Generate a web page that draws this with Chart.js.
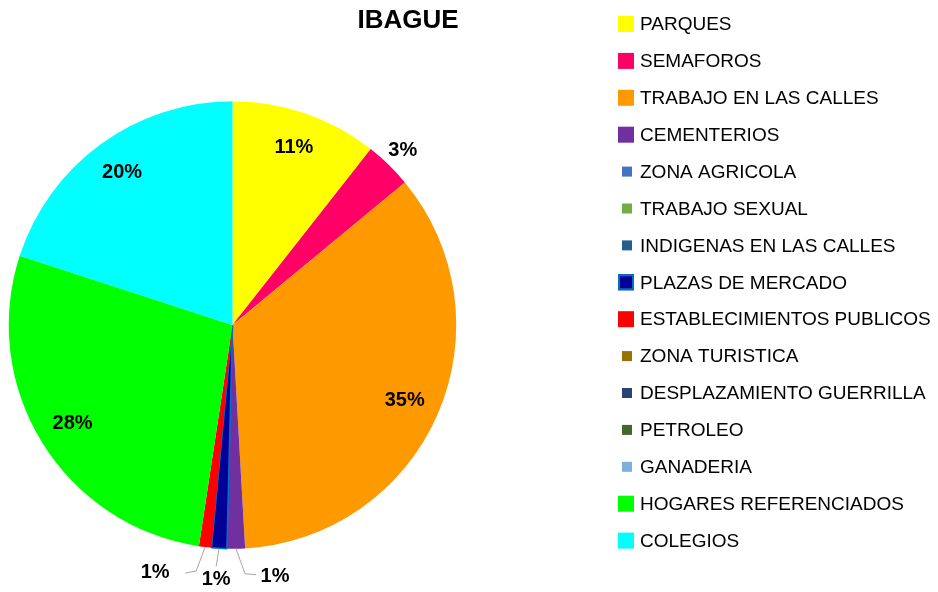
<!DOCTYPE html>
<html>
<head>
<meta charset="utf-8">
<script src="https://cdn.jsdelivr.net/npm/chart.js@4/dist/chart.umd.min.js"></script>
<style>
  html, body { margin: 0; padding: 0; background: #fff; }
  canvas { display: block; }
</style>
</head>
<body>
<canvas id="pie" width="938" height="592"></canvas>
<script>
const chartTitle = 'IBAGUE';

const categories = [
  'PARQUES', 'SEMAFOROS', 'TRABAJO EN LAS CALLES', 'CEMENTERIOS', 'ZONA AGRICOLA',
  'TRABAJO SEXUAL', 'INDIGENAS EN LAS CALLES', 'PLAZAS DE MERCADO', 'ESTABLECIMIENTOS PUBLICOS',
  'ZONA TURISTICA', 'DESPLAZAMIENTO GUERRILLA', 'PETROLEO', 'GANADERIA',
  'HOGARES REFERENCIADOS', 'COLEGIOS'
];

// porcentajes
const values = [10.6, 3.4, 35.1, 1.3, 0, 0, 0, 1.1, 0.9, 0, 0, 0, 0, 27.6, 20.0];

const colors = [
  '#FFFF00', '#FF0066', '#FF9900', '#7030A0', '#4472C4',
  '#70AD47', '#255E91', '#000099', '#FF0000', '#997300',
  '#264478', '#43682B', '#7CAFDD', '#00FF00', '#00FFFF'
];

// etiquetas con linea guia (elbow, fin de linea, texto) relativas al borde del sector
const callouts = {
  'CEMENTERIOS': { elbow: [9, 25], end: [20, 26], text: [39, 28] },
  'PLAZAS DE MERCADO': { elbow: [-3, 18], end: [-3, 18], text: [-3, 31] },
  'ESTABLECIMIENTOS PUBLICOS': { elbow: [-9, 24], end: [-20, 26], text: [-50, 25] }
};

const total = values.reduce((a, b) => a + b, 0);

const decorPlugin = {
  id: 'decor',
  afterDraw(chart) {
    const ctx = chart.ctx;
    ctx.save();

    // titulo
    ctx.fillStyle = '#000';
    ctx.font = 'bold 26px "Liberation Sans", Arial, sans-serif';
    ctx.textAlign = 'center';
    ctx.textBaseline = 'middle';
    ctx.fillText(chartTitle, 408, 21);

    // etiquetas de porcentaje
    const meta = chart.getDatasetMeta(0);
    ctx.font = 'bold 20px "Liberation Sans", Arial, sans-serif';
    meta.data.forEach((arc, i) => {
      const v = values[i];
      if (!v) return;
      const pct = Math.round(v / total * 100) + '%';
      const { x, y, startAngle, endAngle, outerRadius } = arc.getProps(['x', 'y', 'startAngle', 'endAngle', 'outerRadius'], true);
      const mid = (startAngle + endAngle) / 2;
      const cos = Math.cos(mid), sin = Math.sin(mid);
      const c = callouts[categories[i]];
      if (c) {
        const ex = x + cos * outerRadius, ey = y + sin * outerRadius;
        ctx.strokeStyle = '#A6A6A6';
        ctx.lineWidth = 1;
        ctx.beginPath();
        ctx.moveTo(ex, ey);
        ctx.lineTo(ex + c.elbow[0], ey + c.elbow[1]);
        ctx.lineTo(ex + c.end[0], ey + c.end[1]);
        ctx.stroke();
        ctx.fillText(pct, ex + c.text[0], ey + c.text[1]);
      } else {
        const f = v / total < 0.05 ? 1.09 : 0.84;
        ctx.fillText(pct, x + cos * outerRadius * f, y + sin * outerRadius * f);
      }
    });

    // leyenda
    ctx.font = '19px "Liberation Sans", Arial, sans-serif';
    ctx.textAlign = 'left';
    categories.forEach((name, i) => {
      const cy = 24 + i * 36.9;
      if (values[i] > 0) {
        ctx.fillStyle = colors[i];
        ctx.fillRect(618, cy - 8, 16, 16);
        if (name === 'PLAZAS DE MERCADO') {
          ctx.strokeStyle = '#0070C0';
          ctx.lineWidth = 2;
          ctx.strokeRect(619, cy - 7, 14, 14);
        }
      } else {
        ctx.fillStyle = colors[i];
        ctx.fillRect(622, cy - 5, 10, 10);
      }
      ctx.fillStyle = '#000';
      ctx.fillText(name, 640, cy + 1);
    });

    ctx.restore();
  }
};

new Chart(document.getElementById('pie'), {
  type: 'pie',
  data: {
    labels: categories,
    datasets: [{
      data: values,
      backgroundColor: colors,
      borderColor: categories.map(c => c === 'PLAZAS DE MERCADO' ? '#0070C0' : '#ffffff'),
      borderWidth: categories.map(c => c === 'PLAZAS DE MERCADO' ? 1.5 : 0)
    }]
  },
  options: {
    responsive: false,
    animation: false,
    layout: { padding: { left: 8, right: 481, top: 100, bottom: 42 } },
    plugins: {
      legend: { display: false },
      tooltip: { enabled: false }
    }
  },
  plugins: [decorPlugin]
});
</script>
</body>
</html>
